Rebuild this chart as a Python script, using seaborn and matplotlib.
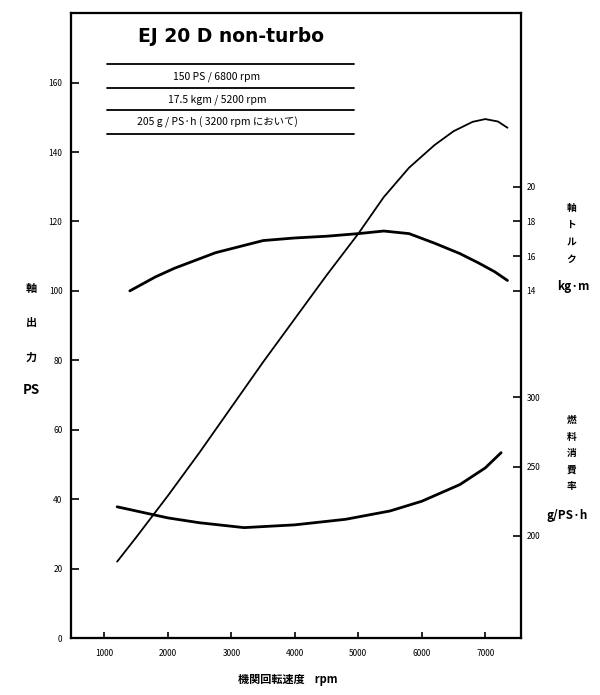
import numpy as np
import pandas as pd
import seaborn as sns
import matplotlib.pyplot as plt

# Curve data
power_rpm = [1200, 1500, 2000, 2500, 3000, 3500, 4000, 4500, 5000, 5400, 5800, 6200, 6500, 6800, 7000, 7200, 7350]
power_ps = [22, 29, 41, 53.5, 66.5, 79.5, 92, 104.5, 116.5, 127, 135.5, 142, 146, 148.7, 149.5, 148.8, 147]

torque_rpm = [1400, 1800, 2100, 2750, 3500, 4000, 4500, 5000, 5400, 5800, 6200, 6600, 6900, 7150, 7350]
torque_kgm = [14.0, 14.8, 15.3, 16.2, 16.9, 17.05, 17.15, 17.3, 17.45, 17.3, 16.75, 16.15, 15.6, 15.1, 14.6]

fuel_rpm = [1200, 1600, 2000, 2500, 3200, 4000, 4800, 5500, 6000, 6600, 7000, 7250]
fuel_gpsh = [221, 217, 213, 209.5, 206, 208, 212, 218, 225, 237, 249, 260]

x_ticks = [1000, 2000, 3000, 4000, 5000, 6000, 7000]
ps_ticks = [0, 20, 40, 60, 80, 100, 120, 140, 160]
torque_ticks = [14, 16, 18, 20]
fuel_ticks = [200, 250, 300]

spec_lines = ["150 PS / 6800 rpm", "17.5 kgm / 5200 rpm", "205 g / PS·h ( 3200 rpm において)"]

df_power = pd.DataFrame({"rpm": power_rpm, "val": power_ps})
df_torque = pd.DataFrame({"rpm": torque_rpm, "val": torque_kgm})
df_fuel = pd.DataFrame({"rpm": fuel_rpm, "val": fuel_gpsh})

sns.set_style("ticks")
plt.rcParams['font.family'] = ['Noto Sans CJK JP', 'DejaVu Sans']
plt.rcParams['text.color'] = 'black'
plt.rcParams['xtick.color'] = 'black'
plt.rcParams['ytick.color'] = 'black'
plt.rcParams['axes.labelcolor'] = 'black'

fig = plt.figure(figsize=(6.0, 6.95), dpi=100)
ax = fig.add_axes([0.118, 0.082, 0.750, 0.899])
ax_t = ax.twinx()
ax_f = ax.twinx()

sns.lineplot(data=df_power, x="rpm", y="val", ax=ax, color="black", lw=1.3)
sns.lineplot(data=df_torque, x="rpm", y="val", ax=ax_t, color="black", lw=2.0)
sns.lineplot(data=df_fuel, x="rpm", y="val", ax=ax_f, color="black", lw=2.0)

ax.set_xlim(470, 7560)
ax.set_ylim(0, 180)
ax_t.set_ylim(-6, 30)
ax_f.set_ylim(126.5, 576.5)

ax.set_xticks(x_ticks)
ax.set_xticklabels([str(v) for v in x_ticks], fontsize=6)
ax.set_yticks(ps_ticks)
ax.set_yticklabels([str(v) for v in ps_ticks], fontsize=6)
ax_t.set_yticks(torque_ticks)
ax_t.set_yticklabels([str(v) for v in torque_ticks], fontsize=6)
ax_f.set_yticks(fuel_ticks)
ax_f.set_yticklabels([str(v) for v in fuel_ticks], fontsize=6)

ax.tick_params(axis="both", direction="in", length=6, width=1.2, pad=6, right=False, top=False)
ax.tick_params(axis="x", length=4, pad=8)
for a in (ax_t, ax_f):
    a.tick_params(axis="y", direction="in", length=6, width=1.2, pad=4)

for a in (ax, ax_t, ax_f):
    a.set_xlabel("")
    a.set_ylabel("")
    for s in a.spines.values():
        s.set_linewidth(1.5)
        s.set_color("black")

# title and spec box
ax.text(0.355, 0.962, "EJ 20 D non-turbo", transform=ax.transAxes, ha="center", va="center",
        fontsize=13.5, weight="bold", family="DejaVu Sans")
for yy in [0.918, 0.880, 0.845, 0.807]:
    ax.plot([0.08, 0.63], [yy, yy], transform=ax.transAxes, color="black", lw=1.3)
for i, txt in enumerate(spec_lines):
    ax.text(0.325, 0.899 - i * 0.037, txt, transform=ax.transAxes, ha="center", va="center", fontsize=7.5)

# axis labels
for i, ch in enumerate(["軸", "出", "力"]):
    fig.text(0.052, 1 - (288 + i * 34.5) / 695, ch, ha="center", va="center", fontsize=8, weight="bold")
fig.text(0.052, 1 - 390 / 695, "PS", ha="center", va="center", fontsize=9.5, weight="bold")

for i, ch in enumerate(["軸", "ト", "ル", "ク"]):
    fig.text(0.952, 1 - (208 + i * 17) / 695, ch, ha="center", va="center", fontsize=7, weight="bold")
fig.text(0.955, 1 - 287 / 695, "kg·m", ha="center", va="center", fontsize=8.5, weight="bold")

for i, ch in enumerate(["燃", "料", "消", "費", "率"]):
    fig.text(0.952, 1 - (420 + i * 16.5) / 695, ch, ha="center", va="center", fontsize=7, weight="bold")
fig.text(0.945, 1 - 516 / 695, "g/PS·h", ha="center", va="center", fontsize=8.5, weight="bold")

fig.text(0.48, 1 - 680 / 695, "機関回転速度    rpm", ha="center", va="center", fontsize=8, weight="bold")

fig.savefig("out.png", dpi=100)
